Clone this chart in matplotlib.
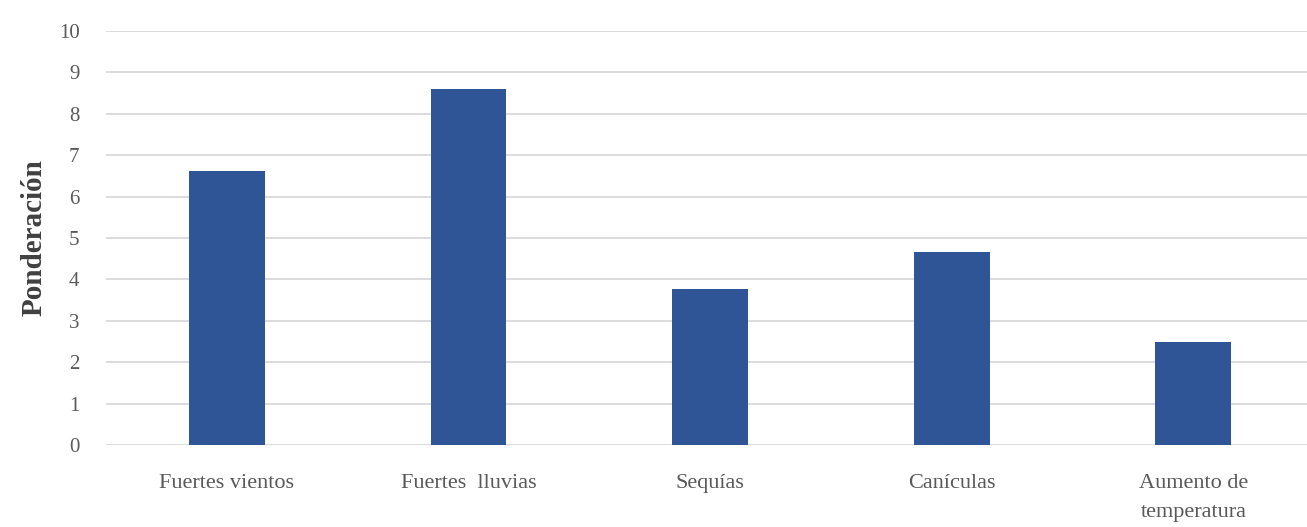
import matplotlib.pyplot as plt

categorias = ["Fuertes vientos", "Fuertes  lluvias", "Sequías", "Canículas", "Aumento de\ntemperatura"]
ponderacion = [6.62, 8.6, 3.77, 4.66, 2.48]

plt.rcParams['font.family'] = ['Liberation Serif', 'DejaVu Serif']

fig = plt.figure(figsize=(13.07, 5.27), dpi=100)
ax = fig.add_axes([106/1307, 82/527, 1 - 106/1307, 414/527])

x = range(len(categorias))
ax.bar(x, ponderacion, width=0.314, color="#2F5597", zorder=3)

ax.set_ylim(0, 10)
ax.set_xlim(-0.5, 4.47)
ax.set_yticks(range(0, 11))
ax.set_xticks(list(x))
ax.set_xticklabels(categorias, linespacing=1.7)
ax.grid(axis='y', color="#D9D9D9", lw=1.3, zorder=0)
for s in ax.spines.values():
    s.set_visible(False)
ax.tick_params(length=0, labelcolor="#595959")
ax.tick_params(axis='y', pad=19, labelsize=15)
ax.tick_params(axis='x', pad=21, labelsize=16)
ax.set_ylabel("Ponderación", fontsize=21, fontweight='bold', color="#404040", labelpad=8)

fig.savefig("out.png", dpi=100)
